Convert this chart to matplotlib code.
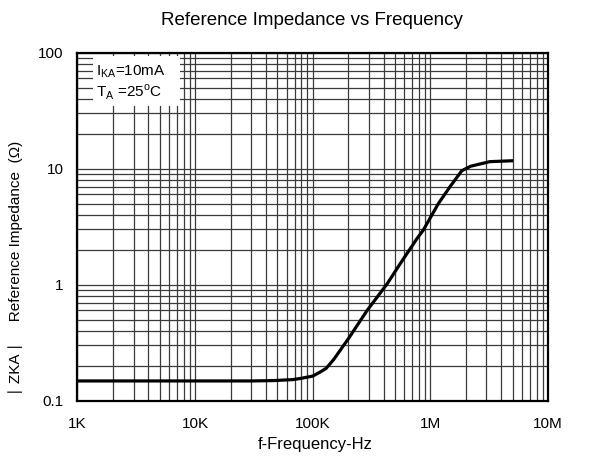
import matplotlib
matplotlib.use("Agg")
import matplotlib.pyplot as plt
from matplotlib.ticker import LogLocator, FixedLocator, NullFormatter
from matplotlib.patches import Rectangle

plt.rcParams['font.family'] = ['Liberation Sans', 'DejaVu Sans']

freq_hz = [1e3, 1e4, 3e4, 4.6e4, 6.8e4, 8e4, 1.0e5, 1.15e5, 1.3e5, 1.5e5,
           2.0e5, 2.9e5, 4.3e5, 5.5e5, 7.7e5, 8.7e5, 1.17e6, 1.47e6, 1.85e6,
           2.2e6, 3.2e6, 4.9e6]
zka_ohm = [0.148, 0.148, 0.148, 0.149, 0.152, 0.156, 0.163, 0.176, 0.19, 0.225,
           0.34, 0.6, 1.02, 1.5, 2.5, 2.95, 5.0, 7.0, 9.6,
           10.5, 11.5, 11.7]

x_ticks = [1e3, 1e4, 1e5, 1e6, 1e7]
x_labels = ["1K", "10K", "100K", "1M", "10M"]
y_ticks = [0.1, 1, 10, 100]
y_labels = ["0.1", "1", "10", "100"]

fig = plt.figure(figsize=(5.91, 4.68), dpi=100)
ax = fig.add_axes([0.1311, 0.1438, 0.9272 - 0.1311, 0.8874 - 0.1438])
ax.set_xscale('log')
ax.set_yscale('log')
ax.set_xlim(1e3, 1e7)
ax.set_ylim(0.1, 100)

ax.xaxis.set_major_locator(FixedLocator(x_ticks))
ax.set_xticklabels(x_labels)
ax.yaxis.set_major_locator(FixedLocator(y_ticks))
ax.set_yticklabels(y_labels)
ax.xaxis.set_minor_locator(LogLocator(base=10, subs=range(2, 10)))
ax.yaxis.set_minor_locator(LogLocator(base=10, subs=range(2, 10)))
ax.xaxis.set_minor_formatter(NullFormatter())
ax.yaxis.set_minor_formatter(NullFormatter())

ax.grid(True, which='both', color='#3a3a3a', linewidth=0.9)
ax.tick_params(which='both', length=0, labelsize=11)
ax.tick_params(axis='x', pad=12)
ax.tick_params(axis='y', pad=10)
for s in ax.spines.values():
    s.set_linewidth(1.6)
    s.set_color('black')
    s.set_zorder(5)

ax.plot(freq_hz, zka_ohm, color='black', linewidth=2.3, zorder=4)

ax.add_patch(Rectangle((0.033, 0.847), 0.185, 0.143, transform=ax.transAxes,
                       facecolor='white', edgecolor='none', zorder=3))
ax.text(0.04, 0.945, r"I$_{\mathregular{KA}}$=10mA", transform=ax.transAxes,
        fontsize=11, va='center', ha='left', zorder=6)
ax.text(0.04, 0.885, r"T$_{\mathregular{A}}$ =25$^{\mathregular{o}}$C", transform=ax.transAxes,
        fontsize=11, va='center', ha='left', zorder=6)

fig.text(0.527, 0.957, "Reference Impedance vs Frequency", ha='center', va='center', fontsize=13.5)
fig.text(0.533, 0.05, "f-Frequency-Hz", ha='center', va='center', fontsize=12)
fig.text(0.027, 1 - 268 / 468, "\u2223 ZKA \u2223     Reference Impedance  (\u03a9)",
         rotation=90, ha='center', va='center', fontsize=11)

fig.savefig("out.png", dpi=100)
